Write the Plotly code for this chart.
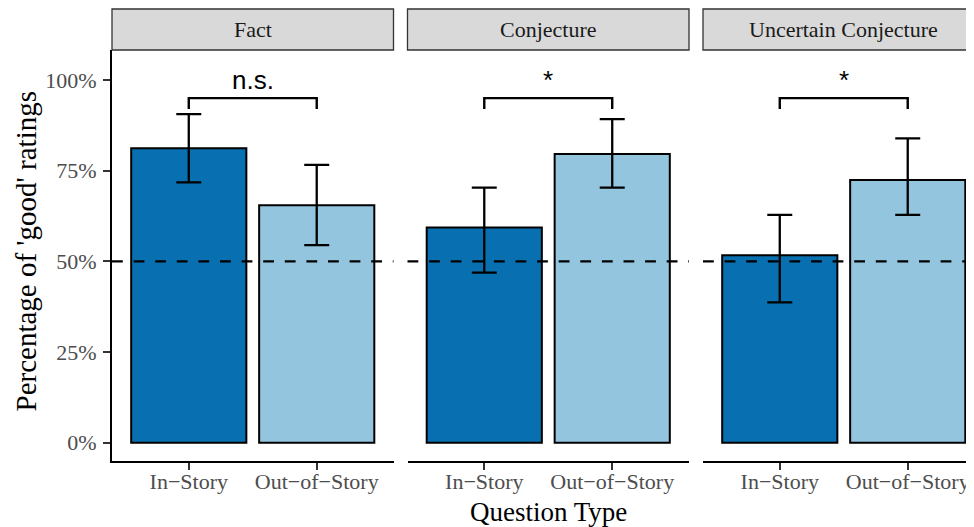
import plotly.graph_objects as go

# ---- data ----
panels = ["Fact", "Conjecture", "Uncertain Conjecture"]
categories = ["In\u2212Story", "Out\u2212of\u2212Story"]
pct_good = [[81.2, 65.5], [59.3, 79.6], [51.7, 72.4]]
ci_low = [[71.8, 54.5], [46.9, 70.3], [38.7, 62.8]]
ci_high = [[90.6, 76.6], [70.3, 89.2], [62.8, 83.9]]
sig_labels = ["n.s.", "*", "*"]
sig_bracket_y = [95.0, 95.0, 95.0]
sig_tip_y = [92.0, 92.0, 92.0]
chance_level = 50
y_ticks = [0, 25, 50, 75, 100]
y_ticktext = ["0%", "25%", "50%", "75%", "100%"]

colors = ["#0870b0", "#93c5de"]
SERIF = "Liberation Serif"
SANS = "Liberation Sans"

# the page body adds an 8px offset; work in page pixels and subtract it
OFF = 8
W, H = 974 - OFF, 527 - OFF
ML, MR, MT = 112 - OFF, 0, 50 - OFF
MB = H - (461 - OFF)
PW = W - ML - MR
PH = H - MT - MB
panel_px = 281.5
gap_px = 14.0
px_per_unit = panel_px / 2.2

fig = go.Figure()

domains = []
for i in range(3):
    left = i * (panel_px + gap_px)
    right = min(left + panel_px, PW)
    domains.append((left / PW, right / PW, left, right))

ymin = -(461 - 442.7) / 3.627
ymax = (442.7 - 50) / 3.627


def paper_x(page_x):
    return (page_x - 112) / PW


def paper_y(page_y):
    return (461 - page_y) / PH


for i, p in enumerate(panels):
    xa = "x" if i == 0 else f"x{i+1}"
    ya = "y" if i == 0 else f"y{i+1}"
    vals = pct_good[i]
    up = [h - v for h, v in zip(ci_high[i], vals)]
    dn = [v - l for v, l in zip(vals, ci_low[i])]
    fig.add_trace(go.Bar(
        x=categories, y=vals, width=0.9,
        marker=dict(color=colors, line=dict(color="black", width=2)),
        error_y=dict(type="data", symmetric=False, array=up, arrayminus=dn,
                     color="black", thickness=2.3, width=12.5),
        xaxis=xa, yaxis=ya, showlegend=False, hoverinfo="skip",
    ))
    # significance bracket
    fig.add_trace(go.Scatter(
        x=[categories[0], categories[0], categories[1], categories[1]],
        y=[sig_tip_y[i], sig_bracket_y[i], sig_bracket_y[i], sig_tip_y[i]],
        mode="lines", line=dict(color="black", width=2.4),
        xaxis=xa, yaxis=ya, showlegend=False, hoverinfo="skip",
    ))
    fig.add_annotation(
        x=0.5, y=sig_bracket_y[i], xref=xa, yref=ya, text=sig_labels[i],
        showarrow=False, yanchor="bottom", yshift=1,
        font=dict(family=SANS, size=26, color="black"),
    )
    # chance line
    fig.add_shape(type="line", xref=f"{xa} domain", yref=ya,
                  x0=0, x1=1, y0=chance_level, y1=chance_level,
                  line=dict(color="black", width=2.2, dash="10.8px,10.8px"))
    # strip
    d0, d1, lpx, rpx = domains[i]
    full_r = (lpx + panel_px) / PW
    fig.add_shape(type="rect", xref="paper", yref="paper",
                  x0=d0, x1=full_r, y0=1.0, y1=1 + 41 / PH,
                  fillcolor="#d9d9d9", line=dict(color="#333333", width=1.3),
                  layer="below")
    fig.add_annotation(x=(d0 + full_r) / 2, y=1 + 20.5 / PH, xref="paper", yref="paper",
                       text=p, showarrow=False, xanchor="center", yanchor="middle",
                       font=dict(family=SERIF, size=22, color="#1a1a1a"))

    xr_hi = -0.6 + (rpx - lpx) / px_per_unit
    fig.update_layout(**{
        ("xaxis" if i == 0 else f"xaxis{i+1}"): dict(
            domain=[d0, d1], anchor=ya, type="category",
            categoryorder="array", categoryarray=categories,
            range=[-0.6, xr_hi], showline=True, linecolor="black", linewidth=2,
            ticks="outside", ticklen=7, tickwidth=1.5, tickcolor="#333333",
            ticklabelstandoff=-7,
            showgrid=False, zeroline=False, fixedrange=True,
            tickfont=dict(family=SERIF, size=22, color="#4d4d4d"),
        ),
        ("yaxis" if i == 0 else f"yaxis{i+1}"): dict(
            domain=[0, 1], anchor=xa, range=[ymin, ymax],
            showgrid=False, zeroline=False, fixedrange=True,
            showline=(i == 0), linecolor="black", linewidth=2,
            ticks="outside" if i == 0 else "", ticklen=7, tickwidth=1.5,
            tickcolor="#333333", tickvals=y_ticks, ticktext=y_ticktext,
            showticklabels=(i == 0), ticklabelstandoff=2,
            tickfont=dict(family=SERIF, size=22, color="#4d4d4d"),
        ),
    })

# axis titles
fig.add_annotation(x=paper_x(548), y=paper_y(512), xref="paper", yref="paper",
                   text="Question Type", showarrow=False, xanchor="center", yanchor="middle",
                   font=dict(family=SERIF, size=27, color="black"))
fig.add_annotation(x=paper_x(25), y=paper_y(251.5), xref="paper", yref="paper",
                   text="Percentage of 'good' ratings", showarrow=False, textangle=-90,
                   xanchor="center", yanchor="middle",
                   font=dict(family=SERIF, size=29, color="black"))

fig.update_layout(
    width=W, height=H, margin=dict(l=ML, r=MR, t=MT, b=MB),
    paper_bgcolor="white", plot_bgcolor="white", bargap=0.1,
)

fig.write_html("out.html")
